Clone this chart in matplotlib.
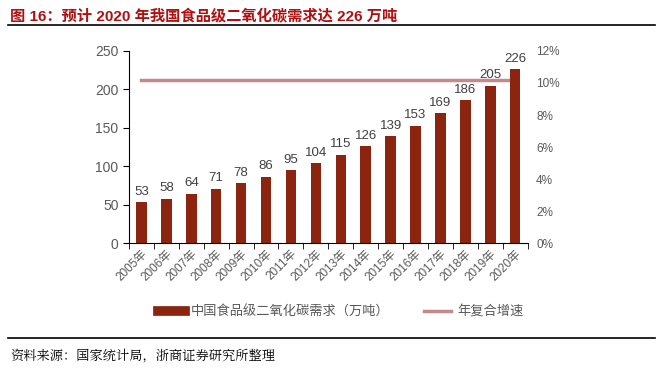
import numpy as np
from matplotlib import pyplot as plt
from matplotlib.lines import Line2D

plt.rcParams['font.family'] = ['Liberation Sans', 'Noto Sans CJK SC', 'DejaVu Sans']

years = ['2005年', '2006年', '2007年', '2008年', '2009年', '2010年', '2011年', '2012年',
         '2013年', '2014年', '2015年', '2016年', '2017年', '2018年', '2019年', '2020年']
demand = [53, 58, 64, 71, 78, 86, 95, 104, 115, 126, 139, 153, 169, 186, 205, 226]
cagr = [10.2] * 16

bar_color = '#8B2510'
line_color = '#C48A8A'
tick_color = '#595959'

fig = plt.figure(figsize=(6.58, 3.69), dpi=100)
ax = fig.add_axes([0.196, 0.341, 0.606, 0.521])
x = np.arange(len(years))
ax.bar(x, demand, width=0.42, color=bar_color, zorder=2)
for xi, v in zip(x, demand):
    ax.text(xi, v + 6, str(v), ha='center', va='bottom', fontsize=9.5, color='#404040')
ax.set_xlim(-0.5, 15.5)
ax.set_ylim(0, 250)
ax.set_yticks(range(0, 251, 50))
ax.set_xticks(x)
ax.set_xticklabels(years, rotation=45, ha='right', rotation_mode='anchor', fontsize=8.5,
                   color=tick_color)
ax.tick_params(axis='y', labelsize=10, colors='black', labelcolor=tick_color, length=4)
ax.set_xticks(np.arange(-0.5, 16, 1), minor=True)
ax.tick_params(axis='x', which='major', length=0)
ax.tick_params(axis='x', which='minor', length=4)
for s in ['top', 'right']:
    ax.spines[s].set_visible(False)

ax2 = ax.twinx()
ax2.plot(x, cagr, color=line_color, lw=2.5, zorder=1)
ax2.set_ylim(0, 12)
ax2.set_yticks(range(0, 13, 2))
ax2.set_yticklabels([f'{v}%' for v in range(0, 13, 2)])
ax2.tick_params(axis='y', length=0, labelsize=8.5, labelcolor=tick_color, pad=6)
for s in ['top', 'right', 'left', 'bottom']:
    ax2.spines[s].set_visible(False)
ax.set_zorder(ax2.get_zorder() + 1)
ax.patch.set_visible(False)

handles = [Line2D([], [], color=bar_color, lw=7),
           Line2D([], [], color=line_color, lw=2.5)]
fig.legend(handles, ['中国食品级二氧化碳需求（万吨）', '年复合增速'], loc='center',
           bbox_to_anchor=(0.518, 0.155), ncol=2, frameon=False, fontsize=9.5,
           handlelength=2.0, handletextpad=0.5, columnspacing=2.6, labelcolor=tick_color)

fig.text(0.015, 0.955, '图 16：预计 2020 年我国食品级二氧化碳需求达 226 万吨', fontsize=11,
         fontweight='bold', color='#B01010', va='center',
         family=['Liberation Sans', 'Noto Sans CJK SC'])
fig.add_artist(Line2D([0.012, 0.995], [0.932, 0.932], color='black', lw=1.2))
fig.add_artist(Line2D([0.012, 0.995], [0.084, 0.084], color='black', lw=1.2))
fig.text(0.015, 0.035, '资料来源：国家统计局，浙商证券研究所整理', fontsize=9.5,
         family=['Noto Serif CJK SC', 'Noto Sans CJK SC'], va='center')

plt.savefig('out.png', dpi=100)
